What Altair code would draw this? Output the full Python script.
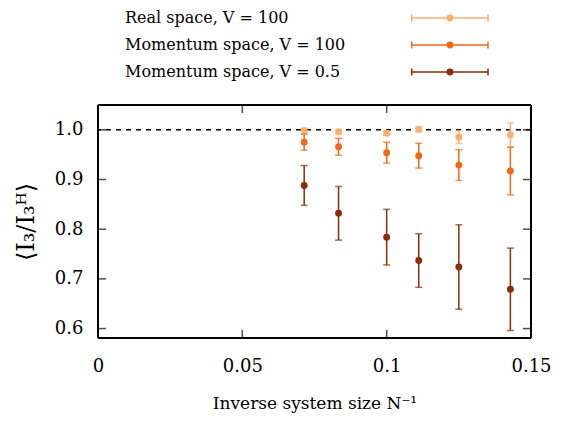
import altair as alt
import pandas as pd

# ---- data ----
system_size = [14, 12, 10, 9, 8, 7]
series = ["Real space, V = 100", "Momentum space, V = 100", "Momentum space, V = 0.5"]
colors = ["#fdae6b", "#f16913", "#8c2d04"]

real_mean = [0.998, 0.996, 0.993, 1.001, 0.985, 0.990]
real_err = [0.005, 0.004, 0.004, 0.005, 0.013, 0.024]
mom100_mean = [0.975, 0.966, 0.954, 0.948, 0.929, 0.917]
mom100_err = [0.016, 0.017, 0.021, 0.025, 0.031, 0.048]
mom05_mean = [0.888, 0.832, 0.784, 0.737, 0.724, 0.679]
mom05_err = [0.040, 0.054, 0.056, 0.054, 0.085, 0.083]

x_ticks = [0, 0.05, 0.1, 0.15]
y_ticks = [0.6, 0.7, 0.8, 0.9, 1.0]
x_domain = [0, 0.15]
y_domain = [0.581, 1.05]

rows = []
for s, means, errs in zip(series, [real_mean, mom100_mean, mom05_mean],
                          [real_err, mom100_err, mom05_err]):
    for n, m, e in zip(system_size, means, errs):
        rows.append({"series": s, "x": 1.0 / n, "mean": m, "lo": m - e, "hi": m + e})
df = pd.DataFrame(rows)
leg_df = pd.DataFrame({"series": series})
xt_df = pd.DataFrame({"v": x_ticks})
yt_df = pd.DataFrame({"v": y_ticks})

FONT = "DejaVu Serif"
xs = alt.Scale(domain=x_domain, nice=False, zero=False)
ys = alt.Scale(domain=y_domain, nice=False, zero=False)
cs = alt.Scale(domain=series, range=colors)

X = alt.X("x:Q", scale=xs,
          axis=alt.Axis(values=x_ticks, format="~g", title="Inverse system size N⁻¹",
                        ticks=False, domain=False, grid=False, labelPadding=19,
                        labelFlush=False, labelOverlap=False,
                        labelFontSize=18, titleFontSize=17, titlePadding=20,
                        labelFont=FONT, titleFont=FONT, labelColor="black",
                        titleColor="black", titleFontWeight="normal"))
Y_axis = alt.Axis(values=y_ticks, format=".1f", title="⟨I₃/I₃ᴴ⟩",
                  ticks=False, domain=False, grid=False, labelPadding=15,
                  labelFlush=False, labelOverlap=False,
                  labelFontSize=18, titleFontSize=24, titlePadding=16,
                  labelFont=FONT, titleFont=FONT, labelColor="black",
                  titleColor="black", titleFontWeight="normal")

base = alt.Chart(df)

dash = alt.Chart(pd.DataFrame({"y": [1.0]})).mark_rule(
    color="black", strokeDash=[5, 5], strokeWidth=1.5
).encode(y=alt.Y("y:Q", scale=ys, axis=Y_axis))

bars = base.mark_rule(strokeWidth=1.5).encode(
    x=X, y=alt.Y("lo:Q", scale=ys), y2="hi:Q",
    color=alt.Color("series:N", scale=cs, legend=None),
)
cap_lo = base.mark_tick(orient="horizontal", size=7, thickness=1.5).encode(
    x=alt.X("x:Q", scale=xs), y=alt.Y("lo:Q", scale=ys),
    color=alt.Color("series:N", scale=cs, legend=None))
cap_hi = base.mark_tick(orient="horizontal", size=7, thickness=1.5).encode(
    x=alt.X("x:Q", scale=xs), y=alt.Y("hi:Q", scale=ys),
    color=alt.Color("series:N", scale=cs, legend=None))
pts = base.mark_point(filled=True, size=48, opacity=1, shape="circle").encode(
    x=alt.X("x:Q", scale=xs), y=alt.Y("mean:Q", scale=ys),
    color=alt.Color("series:N", scale=cs, legend=None))

# per-series layers so that draw order follows the reference
series_layers = []
for s in series:
    f = alt.datum.series == s
    series_layers += [bars.transform_filter(f), cap_lo.transform_filter(f),
                      cap_hi.transform_filter(f), pts.transform_filter(f)]

# inward ticks (gnuplot style)
tk = dict(color="black", thickness=1.5, size=8)
ytick_l = alt.Chart(yt_df).mark_tick(orient="horizontal", xOffset=4, **tk).encode(
    x=alt.datum(x_domain[0], scale=xs), y=alt.Y("v:Q", scale=ys))
ytick_r = alt.Chart(yt_df).mark_tick(orient="horizontal", xOffset=-4, **tk).encode(
    x=alt.datum(x_domain[1], scale=xs), y=alt.Y("v:Q", scale=ys))
xtick_b = alt.Chart(xt_df).mark_tick(orient="vertical", yOffset=-4, **tk).encode(
    x=alt.X("v:Q", scale=xs), y=alt.datum(y_domain[0], scale=ys))
xtick_t = alt.Chart(xt_df).mark_tick(orient="vertical", yOffset=4, **tk).encode(
    x=alt.X("v:Q", scale=xs), y=alt.datum(y_domain[1], scale=ys))

# frame
fr = dict(color="black", strokeWidth=2)
frame = [
    alt.Chart(xt_df.head(1)).mark_rule(**fr).encode(x=alt.datum(x_domain[0], scale=xs)),
    alt.Chart(xt_df.head(1)).mark_rule(**fr).encode(x=alt.datum(x_domain[1], scale=xs)),
    alt.Chart(yt_df.head(1)).mark_rule(**fr).encode(y=alt.datum(y_domain[0], scale=ys)),
    alt.Chart(yt_df.head(1)).mark_rule(**fr).encode(y=alt.datum(y_domain[1], scale=ys)),
]

# legend drawn above the plot, labels left and symbols right
legend_layers = []
row_y = [-87, -60, -33]
for s, c, ry in zip(series, colors, row_y):
    ld = alt.Chart(leg_df).transform_filter(alt.datum.series == s)
    legend_layers += [
        ld.mark_text(align="left", baseline="middle", font=FONT, fontSize=16,
                     color="black").encode(text="series:N", x=alt.value(27), y=alt.value(ry)),
        ld.mark_rule(color=c, strokeWidth=1.5).encode(
            x=alt.value(313.7), x2=alt.value(390), y=alt.value(ry)),
        ld.mark_rule(color=c, strokeWidth=1.5).encode(
            x=alt.value(313.7), y=alt.value(ry - 3.5), y2=alt.value(ry + 3.5)),
        ld.mark_rule(color=c, strokeWidth=1.5).encode(
            x=alt.value(390), y=alt.value(ry - 3.5), y2=alt.value(ry + 3.5)),
        ld.mark_point(filled=True, size=48, opacity=1, color=c).encode(
            x=alt.value(352), y=alt.value(ry)),
    ]

chart = alt.layer(dash, *series_layers, ytick_l, ytick_r, xtick_b, xtick_t,
                  *frame, *legend_layers).properties(
    width=433, height=233,
    autosize=alt.AutoSizeParams(type="none"),
    padding={"left": 90, "top": 97, "right": 25, "bottom": 76},
).configure_view(strokeWidth=0).configure(background="white")

chart.save("out.html", embed_options={"renderer": "svg", "actions": False})
